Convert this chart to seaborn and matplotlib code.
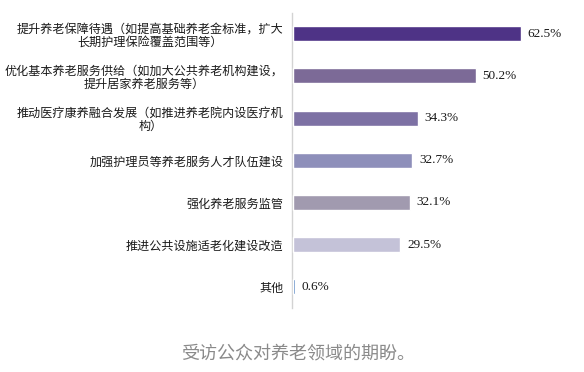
import matplotlib
matplotlib.use("Agg")
import matplotlib.pyplot as plt
import seaborn as sns
import pandas as pd

categories = [
    "提升养老保障待遇（如提高基础养老金标准，扩大\n长期护理保险覆盖范围等）",
    "优化基本养老服务供给（如加大公共养老机构建设，\n提升居家养老服务等）",
    "推动医疗康养融合发展（如推进养老院内设医疗机\n构）",
    "加强护理员等养老服务人才队伍建设",
    "强化养老服务监管",
    "推进公共设施适老化建设改造",
    "其他",
]
values = [62.5, 50.2, 34.3, 32.7, 32.1, 29.5, 0.6]
colors = ["#4E3386", "#7C6A97", "#7D71A4", "#8E8FBA", "#A19AAF", "#C4C2D8", "#4A7DBE"]
caption = "受访公众对养老领域的期盼。"

df = pd.DataFrame({"cat": categories, "val": values})

sns.set_theme(style="white")
plt.rcParams["font.family"] = ["Noto Sans CJK SC", "DejaVu Sans"]

fig = plt.figure(figsize=(5.84, 3.72), dpi=100)
W, H = 584, 372
ax = fig.add_axes([292 / W, 1 - 308 / H, (548 - 292) / W, (308 - 12.5) / H])

sns.barplot(data=df, x="val", y="cat", hue="cat", palette=colors, legend=False,
            orient="h", width=0.355, ax=ax, saturation=1)
for p in ax.patches:
    p.set_zorder(3)

ax.set_xlim(-0.2, 70)
ax.set_ylim(6.5, -0.5)
ax.set_xlabel("")
ax.set_ylabel("")
ax.set_xticks([])
for s in ["top", "right", "bottom"]:
    ax.spines[s].set_visible(False)
ax.spines["left"].set_color("#D3D3D3")
ax.spines["left"].set_linewidth(1)
ax.spines["left"].set_zorder(1)

ax.tick_params(axis="y", length=0, pad=6)
for lab in ax.get_yticklabels():
    lab.set_fontsize(8.7)
    lab.set_color("#1a1a1a")
    lab.set_multialignment("center")
    lab.set_linespacing(1.08)

for cont in ax.containers:
    ax.bar_label(cont, labels=[f"{v:.1f}%" for v in cont.datavalues], padding=5,
                 fontsize=9.5, family="Liberation Serif", color="#1a1a1a")

fig.text(298 / W, 1 - 353 / H, caption, ha="center", va="center",
         fontsize=13, color="#8a8a8a")

fig.savefig("out.png", dpi=100)
